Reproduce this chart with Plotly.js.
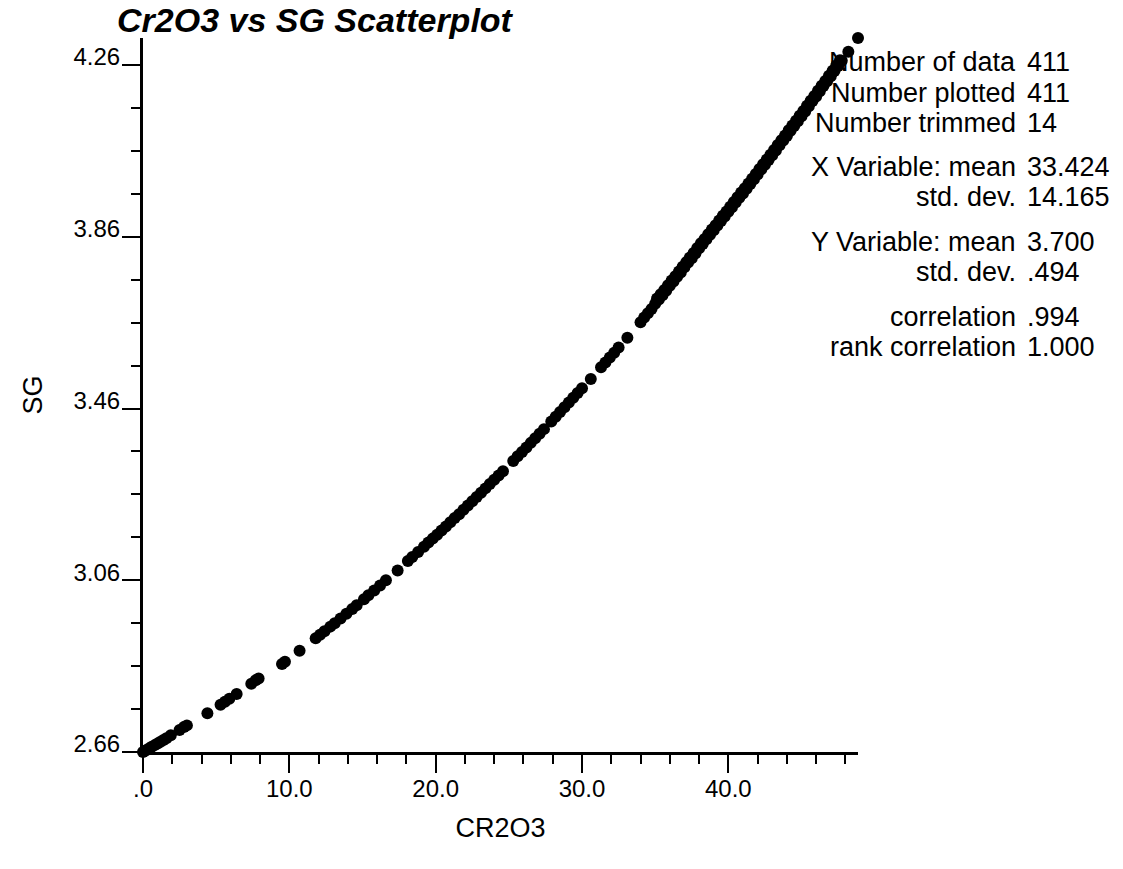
<!DOCTYPE html>
<html>
<head>
<meta charset="utf-8">
<script src="https://cdn.plot.ly/plotly-3.0.1.min.js"></script>
<style>html,body{margin:0;padding:0;background:#fff;}#chart{width:1123px;height:869px;}</style>
</head>
<body>
<div id="chart"></div>
<script>
// CR2O3 values (x)
const cr2o3 = [
  0.0, 0.15, 0.3, 0.45, 0.6, 0.8, 1.0, 1.2, 1.4, 1.6, 1.9, 2.5, 2.8, 3.0,
  4.4, 5.3, 5.6, 5.9, 6.4, 7.4, 7.7, 7.9, 9.5, 9.7, 10.7,
  11.8, 12.1, 12.4, 12.8, 13.1, 13.5, 13.9, 14.3, 14.6,
  15.1, 15.4, 15.8, 16.2, 16.6, 17.4,
  18.1, 18.4, 18.8, 19.2, 19.5, 19.8, 20.1, 20.4, 20.7, 21.0, 21.3, 21.6, 21.9,
  22.2, 22.5, 22.8, 23.1, 23.4, 23.7, 24.0, 24.3, 24.6,
  25.3, 25.6, 25.9, 26.2, 26.5, 26.8, 27.1, 27.4,
  27.9, 28.2, 28.5, 28.8, 29.1, 29.4, 29.7, 30.0,
  30.6, 31.3, 31.6, 31.9, 32.2, 32.5, 33.1,
  34.0, 34.25, 34.5, 34.75, 35.0, 35.25, 35.5, 35.75, 36.0, 36.25, 36.5, 36.75,
  37.0, 37.25, 37.5, 37.75, 38.0, 38.25, 38.5, 38.75, 39.0, 39.25, 39.5, 39.75,
  40.0, 40.25, 40.5, 40.75, 41.0, 41.25, 41.5, 41.75, 42.0, 42.25, 42.5, 42.75,
  43.0, 43.25, 43.5, 43.75, 44.0, 44.25, 44.5, 44.75, 45.0, 45.25, 45.5, 45.75,
  46.0, 46.25, 46.5, 46.75, 47.0, 47.25, 47.5, 47.75, 48.2, 48.86,
  35.125, 35.375, 35.625, 35.875, 36.125, 36.375, 36.625, 36.875,
  37.125, 37.375, 37.625, 37.875, 38.125, 38.375, 38.625, 38.875,
  39.125, 39.375, 39.625, 39.875, 40.125, 40.375, 40.625, 40.875,
  41.125, 41.375, 41.625, 41.875, 42.125, 42.375, 42.625, 42.875,
  43.125, 43.375, 43.625, 43.875, 44.125, 44.375, 44.625, 44.875,
  45.125, 45.375, 45.625, 45.875, 46.125, 46.375, 46.625, 46.875,
  47.125, 47.375, 47.625
];
// SG values (y)
const sg = [
  2.660, 2.663, 2.666, 2.669, 2.672, 2.676, 2.680, 2.684, 2.688, 2.692, 2.699, 2.711, 2.718, 2.722,
  2.750, 2.770, 2.777, 2.784, 2.795, 2.819, 2.827, 2.831, 2.865, 2.870, 2.896,
  2.925, 2.933, 2.941, 2.952, 2.960, 2.971, 2.982, 2.993, 3.002,
  3.016, 3.025, 3.036, 3.048, 3.060, 3.083,
  3.105, 3.114, 3.126, 3.138, 3.148, 3.157, 3.166, 3.176, 3.185, 3.195, 3.205, 3.214, 3.224,
  3.234, 3.244, 3.254, 3.264, 3.274, 3.284, 3.294, 3.304, 3.314,
  3.338, 3.349, 3.359, 3.369, 3.380, 3.391, 3.401, 3.412,
  3.430, 3.441, 3.452, 3.463, 3.474, 3.485, 3.496, 3.507,
  3.529, 3.556, 3.567, 3.579, 3.590, 3.602, 3.625,
  3.661, 3.672, 3.682, 3.692, 3.704, 3.714, 3.724, 3.734, 3.746, 3.756, 3.767, 3.777,
  3.789, 3.800, 3.810, 3.821, 3.833, 3.843, 3.854, 3.865, 3.875, 3.886, 3.897, 3.907,
  3.918, 3.929, 3.940, 3.951, 3.961, 3.972, 3.983, 3.994, 4.005, 4.017, 4.028, 4.039,
  4.050, 4.061, 4.073, 4.084, 4.095, 4.107, 4.118, 4.129, 4.141, 4.152, 4.164, 4.176,
  4.187, 4.199, 4.211, 4.222, 4.234, 4.246, 4.258, 4.270, 4.291, 4.323,
  3.716, 3.726, 3.736, 3.747, 3.758, 3.768, 3.779, 3.790,
  3.801, 3.812, 3.822, 3.834, 3.845, 3.855, 3.866, 3.877,
  3.887, 3.898, 3.909, 3.919, 3.930, 3.941, 3.952, 3.963,
  3.973, 3.984, 3.995, 4.006, 4.018, 4.029, 4.040, 4.051,
  4.062, 4.074, 4.085, 4.096, 4.108, 4.119, 4.130, 4.142,
  4.153, 4.165, 4.177, 4.188, 4.200, 4.212, 4.223, 4.235,
  4.247, 4.259, 4.271
];

const xTickVals = [0, 10, 20, 30, 40];
const xTickText = [".0", "10.0", "20.0", "30.0", "40.0"];
const yTickVals = [2.66, 3.06, 3.46, 3.86, 4.26];
const yTickText = ["2.66", "3.06", "3.46", "3.86", "4.26"];

const statLabels = ["Number of data", "Number plotted", "Number trimmed",
  "X Variable: mean", "std. dev.", "Y Variable: mean", "std. dev.",
  "correlation", "rank correlation"];
const statValues = ["411", "411", "14", "33.424", "14.165", "3.700", ".494", ".994", "1.000"];
const statPixelY = [62, 93, 123, 167, 197, 242, 272, 317, 347];

const FONT = "Liberation Sans, Arial, Helvetica, sans-serif";
const plotTop = 38, plotBottom = 752;

const annotations = [];
statLabels.forEach((lab, i) => {
  const yp = (plotBottom - statPixelY[i]) / (plotBottom - plotTop);
  annotations.push({xref: 'paper', yref: 'paper', x: 1.2238, y: yp, xanchor: 'right', yanchor: 'middle',
    text: lab, showarrow: false, font: {family: FONT, size: 27, color: '#000'}});
  annotations.push({xref: 'paper', yref: 'paper', x: 1.2336, y: yp, xanchor: 'left', yanchor: 'middle',
    text: statValues[i], showarrow: false, font: {family: FONT, size: 27, color: '#000'}});
});

const trace = {
  type: 'scatter', mode: 'markers', x: cr2o3, y: sg,
  marker: {size: 12, color: '#000'}, cliponaxis: false, hoverinfo: 'x+y'
};

const axisCommon = {
  showgrid: false, zeroline: false, showline: true, linecolor: '#000', linewidth: 3,
  ticks: 'outside', ticklen: 18, tickwidth: 2, tickcolor: '#000',
  tickfont: {family: FONT, size: 24, color: '#000'}, tickmode: 'array'
};

const layout = {
  width: 1123, height: 869,
  paper_bgcolor: '#fff', plot_bgcolor: '#fff',
  margin: {l: 143, r: 265, t: 38, b: 117, pad: 0},
  showlegend: false,
  title: {text: '<b><i>Cr2O3 vs SG Scatterplot</i></b>', xref: 'container', yref: 'container',
    x: 117 / 1123, xanchor: 'left', y: 1 - 20 / 869, yanchor: 'middle',
    font: {family: FONT, size: 34, color: '#000'}},
  xaxis: Object.assign({}, axisCommon, {
    range: [0, 48.86], tickvals: xTickVals, ticktext: xTickText,
    ticklabelstandoff: -5,
    minor: {tickmode: 'linear', tick0: 0, dtick: 2, ticks: 'outside', ticklen: 9, tickwidth: 2, tickcolor: '#000'},
    title: {text: 'CR2O3', font: {family: FONT, size: 27, color: '#000'}, standoff: 18}
  }),
  yaxis: Object.assign({}, axisCommon, {
    range: [2.66, 4.323], tickvals: yTickVals, ticktext: yTickText,
    ticklabelshift: -8, ticklabelstandoff: -3,
    minor: {tickmode: 'linear', tick0: 2.66, dtick: 0.1, ticks: 'outside', ticklen: 9, tickwidth: 2, tickcolor: '#000'},
    title: {text: 'SG', font: {family: FONT, size: 27, color: '#000'}, standoff: 24}
  }),
  annotations: annotations
};

Plotly.newPlot('chart', [trace], layout, {displayModeBar: false, staticPlot: true});
</script>
</body>
</html>
